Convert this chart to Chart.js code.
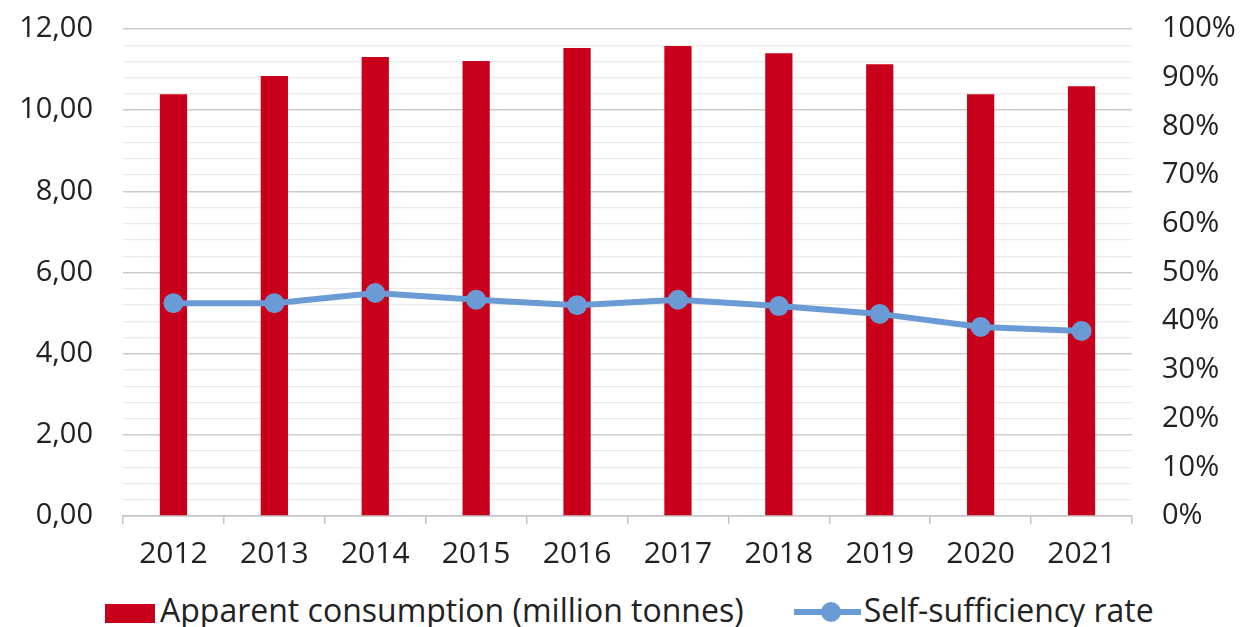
<!DOCTYPE html>
<html>
<head>
<meta charset="utf-8">
<script src="https://cdn.jsdelivr.net/npm/chart.js@4"></script>
<style>
  html, body { margin: 0; padding: 0; background: #fff; }
  #wrap { position: relative; width: 1243px; height: 627px; overflow: hidden; }
  #box { position: absolute; left: 0; top: 0; width: 1243px; height: 585px; }
  #legend { position: absolute; left: 105px; top: 588px; display: flex; align-items: center;
            font-family: "Open Sans", sans-serif; font-size: 32px; color: #222; white-space: nowrap; }
  .item { display: flex; align-items: center; }
  .swatch { width: 50px; height: 19px; margin-right: 5px; margin-top: 7px; }
  .lineMark { position: relative; width: 67px; height: 22px; margin-right: 3px; margin-top: 5px; }
  .lineMark .bar { position: absolute; left: 0; right: 0; top: 8px; height: 6px; }
  .lineMark .dot { position: absolute; left: 27px; top: 1px; width: 20px; height: 20px; border-radius: 50%; }
</style>
</head>
<body>
<div id="wrap">
  <div id="box"><canvas id="chart"></canvas></div>
  <div id="legend"></div>
</div>
<script>
var years = ["2012", "2013", "2014", "2015", "2016", "2017", "2018", "2019", "2020", "2021"];
// million tonnes
var consumption = [10.39, 10.84, 11.31, 11.21, 11.53, 11.58, 11.40, 11.13, 10.39, 10.59];
// percent
var selfSufficiency = [43.7, 43.7, 45.8, 44.4, 43.3, 44.4, 43.1, 41.5, 38.8, 38.0];

var leftMax = 12, leftStep = 0.4, leftLabelEvery = 2;
var rightMax = 100, rightStep = 10;

var red = "#c8001b", blue = "#6a9bd5";

Chart.defaults.font.family = "'Open Sans', sans-serif";
Chart.defaults.font.size = 29;
Chart.defaults.color = "#222";

function isMajor(v) {
  var q = v / leftLabelEvery;
  return Math.abs(q - Math.round(q)) < 1e-6;
}

// tick padding also gets added above the top label, keep only the label overhang
function trimPad(s) {
  s.paddingTop = 17;
  s.paddingBottom = 17;
}

var ctx = document.getElementById("chart").getContext("2d");

var chart = new Chart(ctx, {
  type: "bar",
  data: {
    labels: years,
    datasets: [
      {
        type: "line",
        label: "Self-sufficiency rate",
        data: selfSufficiency,
        yAxisID: "y1",
        borderColor: blue,
        backgroundColor: blue,
        borderWidth: 6,
        pointRadius: 10,
        pointBackgroundColor: blue,
        pointBorderWidth: 0,
        tension: 0,
        order: 0
      },
      {
        type: "bar",
        label: "Apparent consumption (million tonnes)",
        data: consumption,
        yAxisID: "y",
        backgroundColor: red,
        categoryPercentage: 1,
        barPercentage: 0.27,
        order: 1
      }
    ]
  },
  options: {
    responsive: true,
    maintainAspectRatio: false,
    animation: false,
    layout: { autoPadding: false, padding: { top: 29, left: 0, right: 0, bottom: 0 } },
    plugins: {
      legend: { display: false },
      tooltip: { enabled: false }
    },
    scales: {
      x: {
        offset: true,
        grid: {
          offset: true,
          drawOnChartArea: false,
          drawTicks: true,
          tickLength: 8,
          color: "#c4c4c4",
          lineWidth: 1.5
        },
        border: { color: "#c4c4c4", width: 1.5 },
        ticks: { padding: 12, maxRotation: 0, font: { size: 30 } },
        afterFit: function (s) { s.height = 585 - 516; }
      },
      y: {
        position: "left",
        min: 0,
        max: leftMax,
        border: { display: false },
        grid: {
          drawTicks: false,
          color: function (c) { return c.tick && isMajor(c.tick.value) ? "#cbcbcb" : "#e9e9e9"; },
          lineWidth: function (c) { return c.tick && isMajor(c.tick.value) ? 1.6 : 1.2; }
        },
        ticks: {
          stepSize: leftStep,
          autoSkip: false,
          padding: 30,
          callback: function (v) { return isMajor(v) ? v.toFixed(2).replace(".", ",") : ""; }
        },
        afterFit: function (s) { s.width = 123; trimPad(s); }
      },
      y1: {
        position: "right",
        min: 0,
        max: rightMax,
        border: { display: false },
        grid: { drawOnChartArea: false, drawTicks: false },
        ticks: {
          stepSize: rightStep,
          padding: 30,
          callback: function (v) { return v + "%"; }
        },
        afterFit: function (s) { s.width = 1243 - 1132; trimPad(s); }
      }
    }
  }
});

// legend below the chart, built from the datasets
var legend = document.getElementById("legend");
var barDs = chart.data.datasets[1], lineDs = chart.data.datasets[0];
legend.innerHTML =
  '<div class="item"><span class="swatch" style="background:' + barDs.backgroundColor + '"></span>' + barDs.label + '</div>' +
  '<div class="item" style="margin-left:50px"><span class="lineMark"><span class="bar" style="background:' + lineDs.borderColor +
  '"></span><span class="dot" style="background:' + lineDs.borderColor + '"></span></span>' + lineDs.label + '</div>';
</script>
</body>
</html>
